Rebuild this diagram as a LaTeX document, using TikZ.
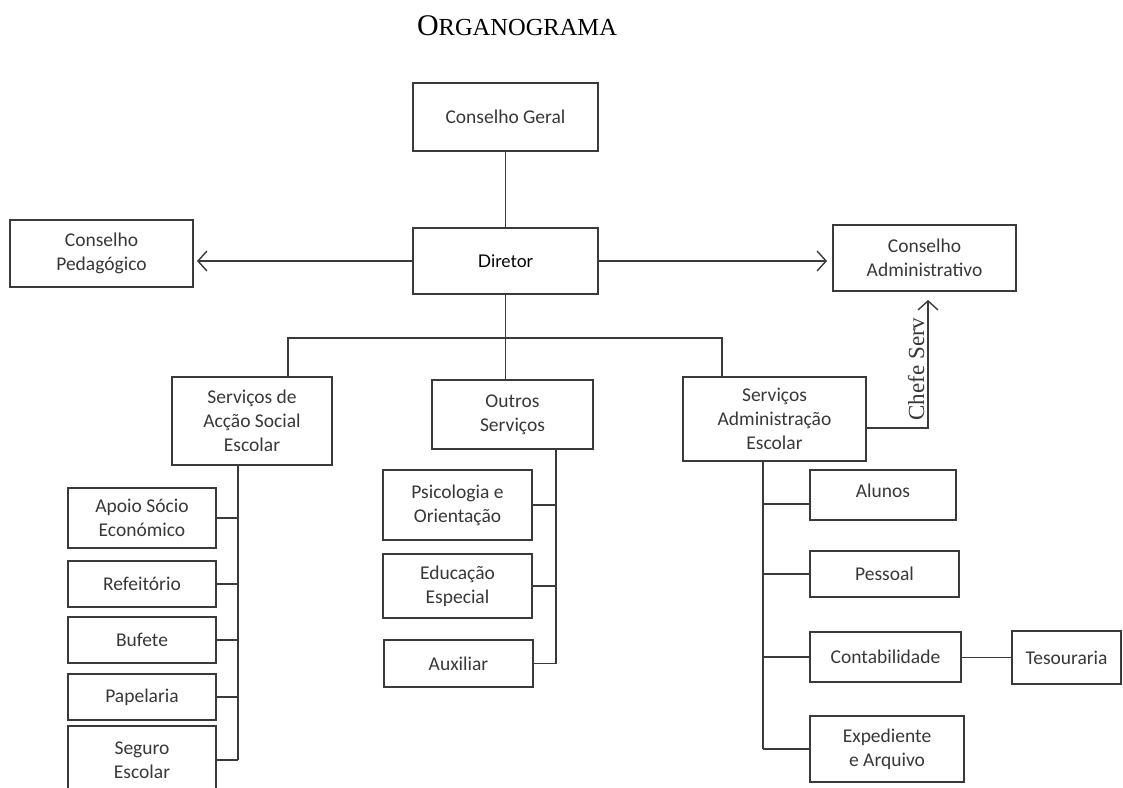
\documentclass[tikz,border=0pt]{standalone}
\usepackage{fontspec}
\setmainfont{Liberation Serif}
\newfontfamily\boxfont{Carlito}
\newfontfamily\dirfont{Lato}
\usetikzlibrary{arrows.meta}
\definecolor{linecol}{HTML}{3A3A3A}
\definecolor{txtcol}{HTML}{383838}
\tikzset{
  box/.style={draw=linecol, line width=1.8pt, rectangle, inner sep=0pt, outer sep=0pt,
    align=center, text=txtcol, font=\boxfont\fontsize{19.5}{24}\selectfont},
  conn/.style={draw=linecol, line width=1.8pt},
  arr/.style={conn, -{Straight Barb[length=9pt,width=20pt,line width=1.4pt]}},
}
\begin{document}
\begin{tikzpicture}[x=1pt,y=-1pt]
\useasboundingbox (0,0) rectangle (1123,787);
\clip (0,0) rectangle (1123,787);
\fill[white] (0,0) rectangle (1123,787);

\node[anchor=base] (title) at (517,35) {\fontsize{30}{30}\selectfont O\fontsize{24.5}{24.5}\selectfont RGANOGRAMA};

% top level
\node[box, minimum width=185pt, minimum height=68pt] (cg) at (505.5,117) {Conselho Geral};
\node[box, minimum width=185pt, minimum height=66pt, font=\dirfont\fontsize{17.5}{22}\selectfont, text=black] (dir) at (505.5,261) {Diretor};
\node[box, minimum width=183pt, minimum height=67pt] (cp) at (101.5,253.5) {Conselho\\Pedagógico};
\node[box, minimum width=183pt, minimum height=66pt] (ca) at (924.5,258) {Conselho\\Administrativo};

% second level
\node[box, minimum width=160pt, minimum height=88pt] (sase) at (252,421) {Serviços de\\Acção Social\\Escolar};
\node[box, minimum width=161pt, minimum height=69pt] (os) at (512.5,414.5) {Outros\\Serviços};
\node[box, minimum width=183pt, minimum height=84pt] (sae) at (774.5,419) {Serviços\\Administração\\Escolar};

% acção social children
\node[box, minimum width=148pt, minimum height=60pt] (apoio) at (142,518) {Apoio Sócio\\Económico};
\node[box, minimum width=148pt, minimum height=46pt] (ref) at (142,584) {Refeitório};
\node[box, minimum width=148pt, minimum height=46pt] (buf) at (142,640) {Bufete};
\node[box, minimum width=148pt, minimum height=46pt] (pap) at (142,697) {Papelaria};
\node[box, minimum width=148pt, minimum height=68pt] (seg) at (142,760) {Seguro\\Escolar};

% outros children
\node[box, minimum width=149pt, minimum height=70pt] (psi) at (457.5,505) {Psicologia e\\Orientação};
\node[box, minimum width=149pt, minimum height=64pt] (edu) at (457.5,586) {Educação\\Especial};
\node[box, minimum width=149pt, minimum height=47pt] (aux) at (458.5,663.5) {Auxiliar};

% administração children
\node[box, minimum width=146pt, minimum height=50pt, text depth=8pt] (alu) at (883,495) {Alunos};
\node[box, minimum width=149pt, minimum height=46pt] (pes) at (884.5,574) {Pessoal};
\node[box, minimum width=151pt, minimum height=50pt] (con) at (885.5,657) {Contabilidade};
\node[box, minimum width=109pt, minimum height=53pt] (tes) at (1066.5,657.5) {Tesouraria};
\node[box, minimum width=154pt, minimum height=66pt] (exp) at (887,749) {Expediente\\e Arquivo};

% helper coordinates
\coordinate (busL) at (288,338);
\coordinate (busR) at (722,338);
\coordinate (t1) at (238,0);
\coordinate (t2) at (556,0);
\coordinate (t3) at (763,0);
\coordinate (ch) at (928,428);
\coordinate (aluc) at (0,504);

% connectors
\draw[conn] (cg.south) -- (dir.north);
\draw[arr, shorten >=4pt] (dir.west) -- (dir.west -| cp.east);
\draw[arr, shorten >=6pt] (dir.east) -- (dir.east -| ca.west);
\draw[conn] (dir.south) -- (dir.south |- os.north);
\draw[conn] (busL |- sase.north) -- (busL) -- (busR) -- (busR |- sae.north);
\draw[arr, shorten >=9pt] (sae.east |- ch) -- (ch) -- (ch |- ca.south);
\node[rotate=90, text=txtcol, font=\fontsize{23}{23}\selectfont, inner sep=0pt] (chefe) at (916,369) {Chefe Serv};

\draw[conn] (t1 |- sase.south) -- (t1 |- seg.east);
\foreach \n in {apoio,ref,buf,pap,seg} \draw[conn] (\n.east) -- (\n.east -| t1);

\draw[conn] (t2 |- os.south) -- (t2 |- aux.east);
\foreach \n in {psi,edu,aux} \draw[conn] (\n.east) -- (\n.east -| t2);

\draw[conn] (t3 |- sae.south) -- (t3 |- exp.west);
\draw[conn] (alu.west |- aluc) -- (t3 |- aluc);
\foreach \n in {pes,con,exp} \draw[conn] (\n.west) -- (\n.west -| t3);

\draw[conn] (con.east) -- (tes.west -| con.east) -- (tes.west);
\end{tikzpicture}
\end{document}
